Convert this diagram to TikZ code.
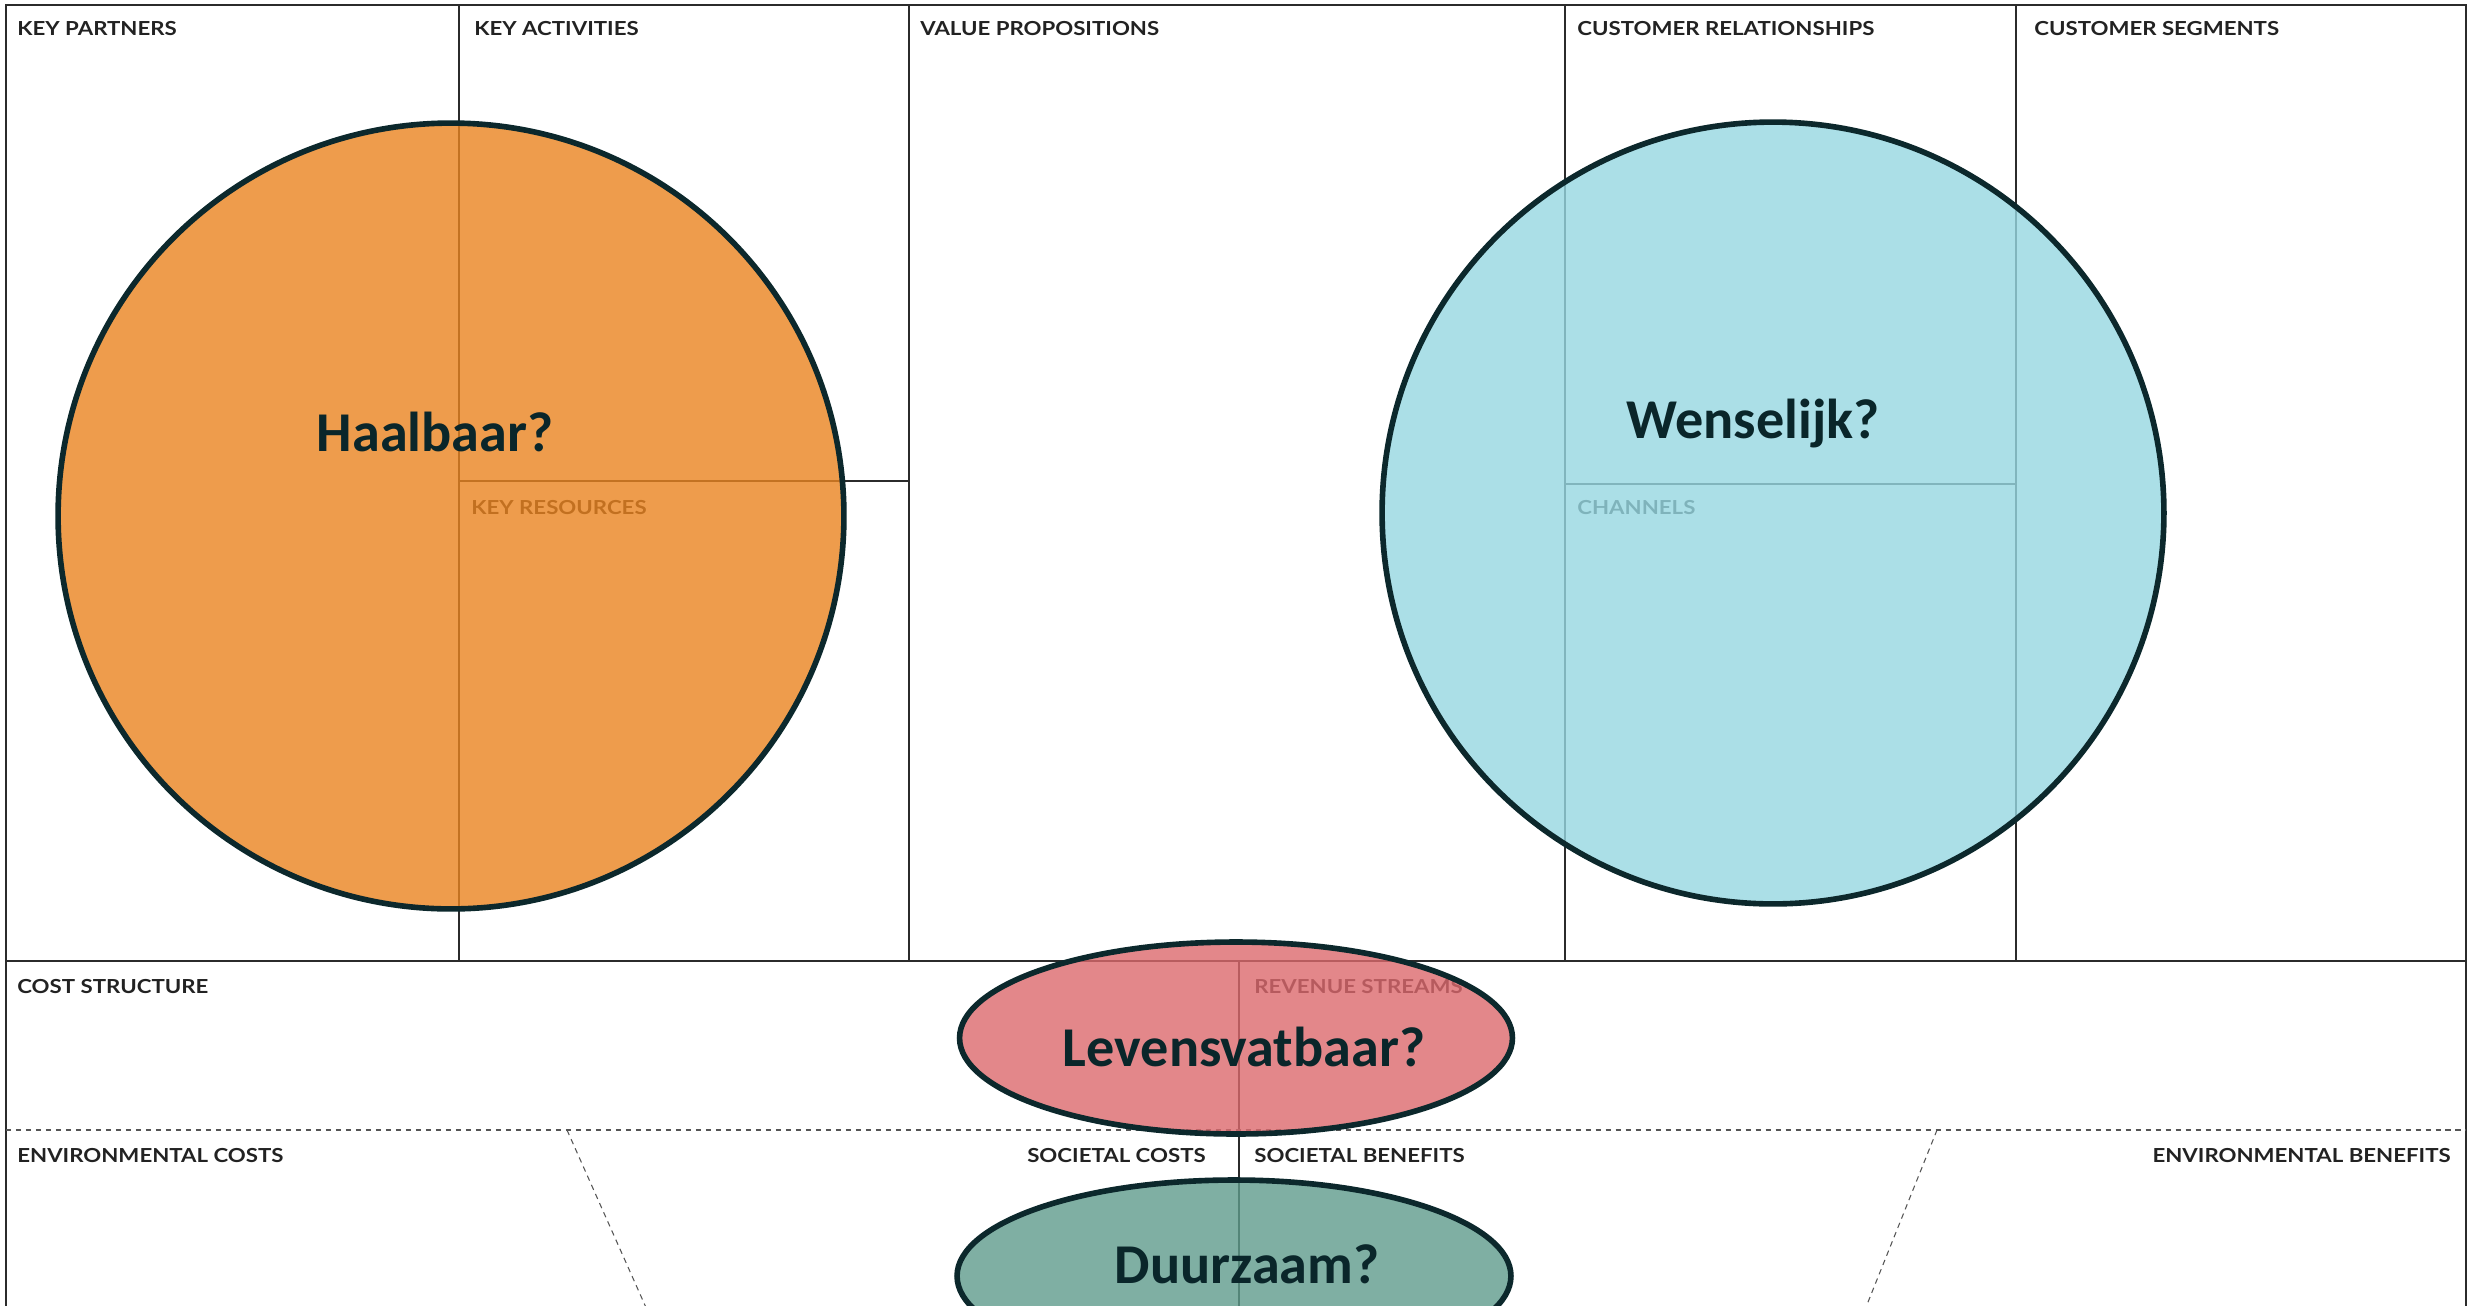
\documentclass[tikz,border=0pt]{standalone}
\usepackage{fontspec}
\usetikzlibrary{shapes.geometric}
\newfontfamily\labfont[FakeStretch=1.15]{Lato}
\newfontfamily\bigfont{Carlito}
\definecolor{gridc}{RGB}{43,43,43}
\definecolor{labc}{RGB}{34,34,34}
\definecolor{dashc}{RGB}{85,85,85}
\definecolor{outc}{RGB}{12,40,44}
\definecolor{bigc}{RGB}{10,38,42}
\definecolor{orangef}{RGB}{234,132,32}
\definecolor{bluef}{RGB}{151,216,226}
\definecolor{redf}{RGB}{220,105,109}
\definecolor{greenf}{RGB}{95,156,140}
\begin{document}
\begin{tikzpicture}[x=0.02cm,y=-0.02cm,
  lab/.style={font=\labfont\bfseries\fontsize{11}{13}\selectfont, text=labc, inner sep=0pt, anchor=base west},
  labr/.style={lab, anchor=base east},
  big/.style={font=\bigfont\bfseries\fontsize{32}{38}\selectfont, text=bigc, inner sep=0pt, anchor=base},
  gridline/.style={draw=gridc, line width=1.4pt},
  dashline/.style={draw=dashc, line width=0.6pt, dash pattern=on 0.11cm off 0.09cm},
  blob/.style={draw=outc, line width=3.2pt, fill opacity=0.8, inner sep=0pt, outer sep=0pt}]
\useasboundingbox (0,0) rectangle (2471,1305);
\fill[white] (0,0) rectangle (2471,1305);
% grid
\coordinate (fTL) at (6,5);
\coordinate (fTR) at (2466,5);
\coordinate (fBL) at (6,1312);
\coordinate (fBR) at (2466,1312);
\draw[gridline] (fBL) -- (fTL) -- (fTR) -- (fBR);
\draw[gridline] (6,961) -- (2466,961);
\draw[gridline] (459,5) -- (459,961);
\draw[gridline] (909,5) -- (909,961);
\draw[gridline] (1565,5) -- (1565,961);
\draw[gridline] (2016,5) -- (2016,961);
\draw[gridline] (459,481) -- (909,481);
\draw[gridline] (1565,484) -- (2016,484);
\draw[gridline] (1239,961) -- (1239,1312);
\draw[dashline] (6,1130) -- (2466,1130);
\draw[dashline] (567,1130) -- (648,1312);
\draw[dashline] (1937,1130) -- (1864,1312);
% labels
\node[lab] (kp) at (17,35) {KEY PARTNERS};
\node[lab] (ka) at (474,35) {KEY ACTIVITIES};
\node[lab] (vp) at (920,35) {VALUE PROPOSITIONS};
\node[lab] (cr) at (1577,35) {CUSTOMER RELATIONSHIPS};
\node[lab] (cs) at (2034,35) {CUSTOMER SEGMENTS};
\node[lab] (kr) at (471,514) {KEY RESOURCES};
\node[lab] (ch) at (1577,514) {CHANNELS};
\node[lab] (cst) at (17,993) {COST STRUCTURE};
\node[lab] (rs) at (1254,993) {REVENUE STREAMS};
\node[lab] (ec) at (17,1162) {ENVIRONMENTAL COSTS};
\node[labr] (sc) at (1206,1162) {SOCIETAL COSTS};
\node[lab] (sb) at (1254,1162) {SOCIETAL BENEFITS};
\node[labr] (eb) at (2451,1162) {ENVIRONMENTAL BENEFITS};
% translucent shapes
\node[blob, circle, fill=orangef, minimum size=15.72cm] (haal) at (451,516) {};
\node[blob, circle, fill=bluef, minimum size=15.64cm] (wens) at (1773,513) {};
\node[blob, ellipse, fill=redf, minimum width=11.06cm, minimum height=3.84cm] (lev) at (1236,1038) {};
\node[blob, ellipse, fill=greenf, minimum width=11.08cm, minimum height=3.84cm] (duur) at (1234,1276) {};
% big texts
\node[big] (thaal) at (435,451) {Haalbaar?};
\node[big] (twens) at (1753,438) {Wenselijk?};
\node[big] (tlev) at (1244,1066) {Levensvatbaar?};
\node[big] (tduur) at (1247,1283) {Duurzaam?};
\end{tikzpicture}
\end{document}
